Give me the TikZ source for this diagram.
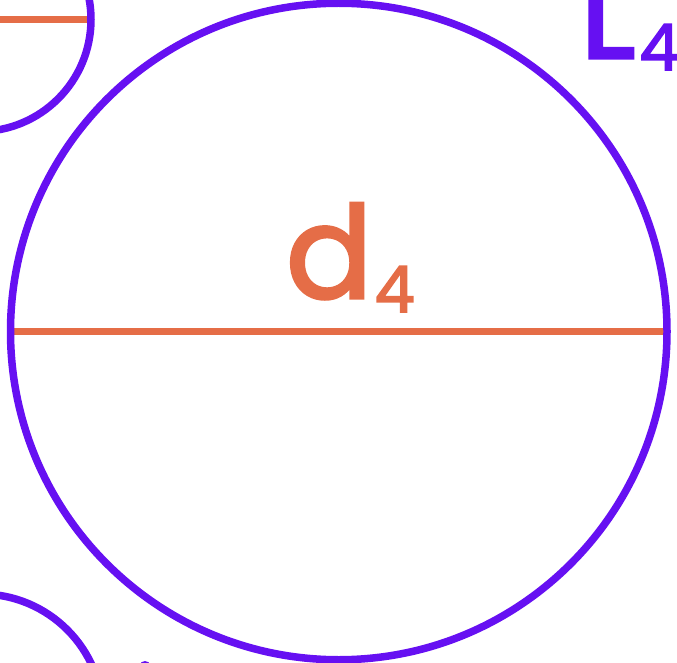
\documentclass[tikz,border=0pt]{standalone}
\usepackage{fontspec}
\setmainfont{Poppins}
\newfontfamily\labfont[FakeBold=2.5]{Poppins}
\usetikzlibrary{backgrounds}
\definecolor{pur}{HTML}{6610F2}
\definecolor{org}{HTML}{E56D47}
\begin{document}
\begin{tikzpicture}[x=1pt,y=-1pt,
  circ/.style={circle,draw=pur,line width=7.5pt,inner sep=0pt,outer sep=0pt},
  diam/.style={draw=org,line width=7.5pt},
  lab/.style={inner sep=0pt,outer sep=0pt,anchor=base west,font=\labfont}]
\useasboundingbox (0,0) rectangle (677,663);
\clip (0,0) rectangle (677,663);
\node[circ,minimum size=656.5pt] (c4) at (338.75,331.5) {};
\node[circ,minimum size=224pt] (c3) at (-21,19.5) {};
\node[circ,minimum size=244pt] (c5) at (-19,716) {};
\begin{scope}[on background layer]
\draw[diam] (c4.west) -- (c4.east);
\draw[diam] (c3.west) -- (c3.east);
\end{scope}
\node[lab,text=org] (d4) at (286,298) {\fontsize{128}{128}\selectfont d\hspace{2pt}\raisebox{-14pt}{\fontsize{64}{64}\selectfont 4}};
\node[lab,text=pur] (l4) at (580,58) {\fontsize{128}{128}\selectfont L\hspace{4pt}\raisebox{-12pt}{\fontsize{64}{64}\selectfont 4}};
\fill[pur] (145,665) ellipse (5 and 4);
\end{tikzpicture}
\end{document}
